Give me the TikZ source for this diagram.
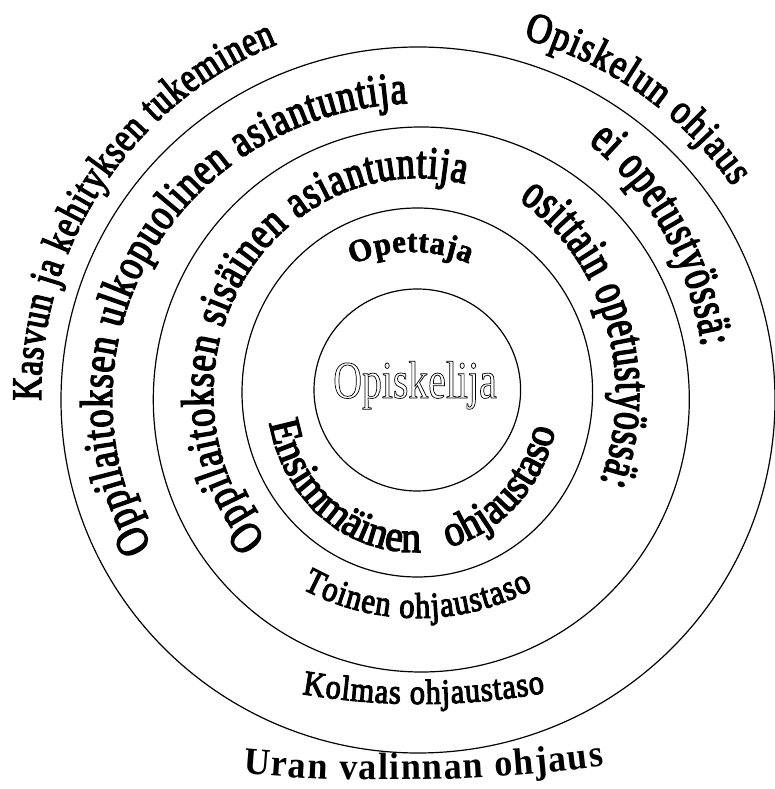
\documentclass[tikz,border=0pt]{standalone}
\usepackage{fontspec}
\setmainfont{Liberation Serif}
\usetikzlibrary{decorations.text}
\newfontfamily\fA[FakeStretch=0.78,FakeBold=3]{Liberation Serif}
\newfontfamily\fB[FakeStretch=0.84,FakeBold=3]{Liberation Serif}
\newfontfamily\fC[FakeStretch=0.70,FakeBold=3]{Liberation Serif}
\newfontfamily\fD[FakeStretch=0.79,FakeBold=3]{Liberation Serif}
\newfontfamily\fE[FakeStretch=0.79,FakeBold=3]{Liberation Serif}
\newfontfamily\fF[FakeStretch=0.70,FakeBold=3]{Liberation Serif}
\newfontfamily\fG[FakeStretch=0.96,FakeBold=2]{Liberation Serif}
\newfontfamily\fH[FakeStretch=0.75]{Liberation Serif}
\newfontfamily\fI[FakeStretch=0.90,FakeBold=3]{Liberation Serif}
\newfontfamily\fJ[FakeStretch=0.85,FakeBold=3]{Liberation Serif}
\newfontfamily\fK[FakeStretch=0.87,FakeBold=3]{Liberation Serif}
\newfontfamily\fL[FakeStretch=0.95]{Liberation Serif}
\begin{document}
\begin{tikzpicture}[x=1pt,y=1pt,
  ring/.style={draw, line width=1.2pt},
  arctext/.style={decorate, decoration={text along path, text align={fit to path}, text={#1}}},
  arcspace/.style={decorate, decoration={text along path, text align={fit to path stretching spaces}, text={#1}}}]
\useasboundingbox (0,0) rectangle (774,789);
\coordinate (c0) at (418,395);
\coordinate (cI) at (413,395);
\coordinate (cD) at (420,389);
\coordinate (cG) at (412,391);
\coordinate (cJ) at (418,415);
\coordinate (cK) at (420,785);
\coordinate (cL) at (387.6,1667);
% rings
\draw[ring] (417.3,399) ellipse [x radius=103.3, y radius=101];
\draw[ring] (417.3,396.5) ellipse [x radius=175.3, y radius=184.5];
\draw[ring] (421.3,389.5) ellipse [x radius=268, y radius=272.5];
\draw[ring] (418,389) ellipse [x radius=357, y radius=353];
% centre
\node[anchor=base, inner sep=0pt] (stud) at (415,391)
  {\fH\fontsize{53}{53}\selectfont\special{pdf:literal direct 1 Tr 0.7 w}Opiskelija\special{pdf:literal direct 0 Tr}};
% outer texts
\path[arctext={|\fA\fontsize{42}{42}\selectfont|Kasvun ja kehityksen tukeminen}]
  (c0) ++(181:377) arc[start angle=181, end angle=112, radius=377];
\path[arctext={|\fB\fontsize{42}{42}\selectfont|Opiskelun ohjaus}]
  (c0) ++({380*cos(73.9)},{370*sin(73.9)}) arc[start angle=73.9, end angle=34.1, x radius=380, y radius=370];
\path[arctext={|\fL\bfseries\fontsize{38}{38}\selectfont|Uran valinnan ohjaus}]
  (cL) ++(265:1658) arc[start angle=265, end angle=277.5, radius=1658];
% third band
\path[arctext={|\fD\fontsize{46}{46}\selectfont|Oppilaitoksen ulkopuolinen asiantuntija}]
  (cD) ++({308*cos(209.5)},{297*sin(209.5)}) arc[start angle=209.5, end angle=92.4, x radius=308, y radius=297];
\path[arctext={|\fC\fontsize{50}{50}\selectfont|ei opetustyössä:}]
  (c0) ++({287*cos(53.6)},{312*sin(53.6)}) arc[start angle=53.6, end angle=8.7, x radius=287, y radius=312];
\path[arctext={|\fK\fontsize{35}{35}\selectfont|Kolmas ohjaustaso}]
  (cK) ++(260.3:700) arc[start angle=260.3, end angle=280.3, radius=700];
% second band
\path[arctext={|\fE\fontsize{46}{46}\selectfont|Oppilaitoksen sisäinen asiantuntija}]
  (c0) ++({205*cos(222.2)},{216*sin(222.2)}) arc[start angle=222.2, end angle=76.8, x radius=205, y radius=216];
\path[arctext={|\fF\fontsize{50}{50}\selectfont|osittain opetustyössä:}]
  (c0) ++({198*cos(59.4)},{225*sin(59.4)}) arc[start angle=59.4, end angle=-23, x radius=198, y radius=225];
\path[arctext={|\fJ\fontsize{36}{36}\selectfont|Toinen ohjaustaso}]
  (cJ) ++(241.6:244) arc[start angle=241.6, end angle=298.1, radius=244];
% first band
\path[arctext={|\fG\bfseries\fontsize{32}{32}\selectfont|Opettaja}]
  (cG) ++(114:146) arc[start angle=114, end angle=67, radius=146];
\path[arcspace={|\fI\fontsize{44}{44}\selectfont|Ensimmäinen ohjaustaso}]
  (cI) ++({146*cos(190.5)},{158*sin(190.5)}) arc[start angle=190.5, end angle=347, x radius=146, y radius=158];
\end{tikzpicture}
\end{document}
